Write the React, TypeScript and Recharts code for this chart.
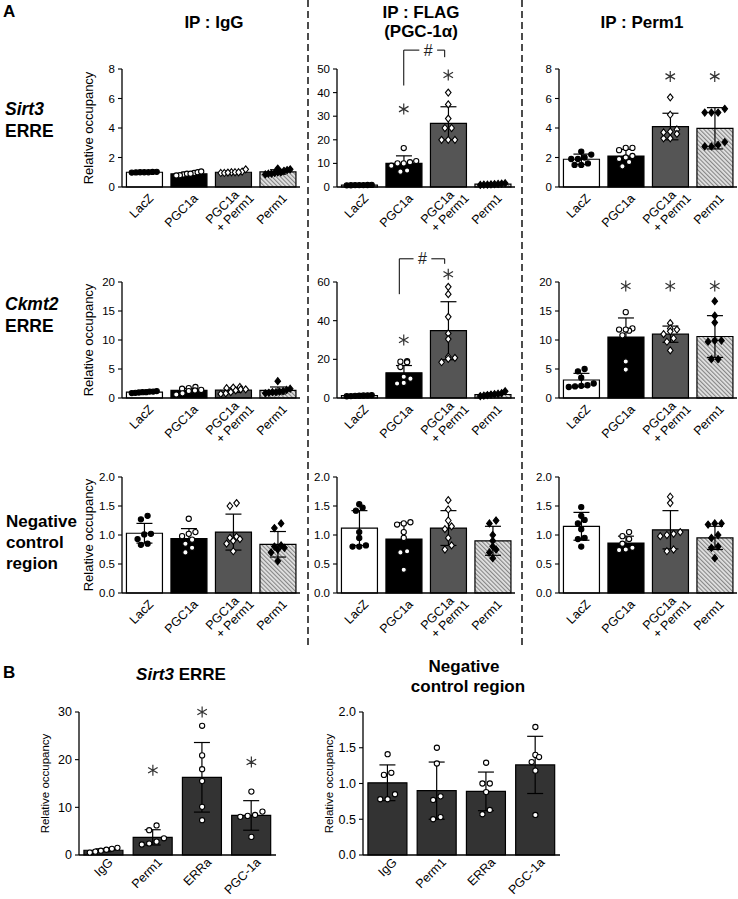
import React from 'react';
import { ComposedChart, Bar, Cell, ErrorBar, Scatter, XAxis, YAxis, ReferenceDot, ReferenceLine } from 'recharts';

const FONT = '"Liberation Sans", Arial, Helvetica, sans-serif';

const A_GROUPS = ['LacZ', 'PGC1a', 'PGC1a\n+ Perm1', 'Perm1'];
const B_GROUPS = ['IgG', 'Perm1', 'ERRa', 'PGC-1a'];

// A - Sirt3 ERRE
const s3IgGMean = [1.0, 0.9, 1.0, 1.02];
const s3IgGSd = [0.05, 0.1, 0.1, 0.15];
const s3IgGDots = [
  [1.0, 1.02, 0.98, 1.0, 1.03, 0.99, 1.0],
  [0.85, 0.9, 0.95, 1.0, 0.8, 0.9, 1.05, 0.78],
  [0.95, 1.0, 1.0, 1.05, 0.95, 1.0, 1.2, 0.98],
  [1.0, 1.15, 0.9, 1.2, 0.85, 1.0, 1.1, 0.9, 1.25, 0.95],
];

const s3FlagMean = [0.8, 10, 27, 1.2];
const s3FlagSd = [0.1, 3.2, 7, 0.3];
const s3FlagDots = [
  [0.8, 0.9, 0.7, 0.8, 0.85, 0.75, 0.8],
  [16.5, 10.5, 10, 11, 10, 7, 6.5, 9],
  [40, 35, 29, 25, 25, 20, 20, 20],
  [1.0, 1.4, 1.2, 0.9, 1.6, 1.1, 1.3, 1.0],
];
const s3FlagStars = [null, 33, 47.5, null];
const s3FlagBracket = { x1: 1, x2: 1.92, hash: 1.55, low: 43, top: 58, rightLow: 55 };

const s3PermMean = [1.88, 2.1, 4.1, 3.98];
const s3PermSd = [0.35, 0.45, 0.9, 1.4];
const s3PermDots = [
  [2.4, 2.2, 2.0, 1.9, 1.9, 1.6, 1.5, 1.5],
  [2.65, 2.65, 2.5, 2.1, 2.0, 1.9, 1.4, 1.7],
  [6.08, 4.9, 3.9, 3.75, 3.6, 3.3, 3.3, 3.7],
  [5.3, 5.05, 5.05, 5.05, 3.05, 2.85, 2.75, 2.75],
];
const s3PermStars = [null, null, 7.5, 7.5];

// A - Ckmt2 ERRE
const ckIgGMean = [1.0, 1.3, 1.35, 1.3];
const ckIgGSd = [0.12, 0.35, 0.4, 0.6];
const ckIgGDots = [
  [1.2, 1.0, 0.9, 1.1, 1.0, 0.95, 1.1, 0.85],
  [1.9, 1.7, 1.6, 1.4, 1.2, 0.8, 0.6, 1.3],
  [1.9, 1.8, 1.7, 1.5, 1.3, 1.0, 0.8, 0.7, 1.5],
  [2.9, 1.6, 1.4, 1.2, 1.0, 1.0, 0.9, 0.8, 1.1],
];

const ckFlagMean = [1.2, 13, 34.8, 1.8];
const ckFlagSd = [0.3, 3.8, 15, 0.7];
const ckFlagDots = [
  [1.0, 1.3, 1.1, 1.5, 0.9, 1.2, 1.4],
  [19, 18.5, 18.8, 16, 11, 10, 7.8, 7.5],
  [57.5, 53.7, 42, 33.4, 30.5, 21.4, 20.8, 20.3, 18.5],
  [1.5, 2, 2.5, 3.5, 1.2, 1.8, 2.2, 1.0],
];
const ckFlagStars = [null, 30, 64, null];
const ckFlagBracket = { x1: 0.9, x2: 1.92, hash: 1.42, low: 53.7, top: 72, rightLow: 69.4 };

const ckPermMean = [3.1, 10.5, 11.0, 10.6];
const ckPermSd = [1.15, 3.3, 1.4, 3.6];
const ckPermDots = [
  [5.0, 4.6, 3.5, 2.5, 2.2, 2.0, 1.9, 2.1],
  [14.8, 12, 11.8, 11.6, 11.8, 10.8, 6.3, 4.9],
  [12.9, 12.0, 11.8, 11.5, 11.0, 10.3, 9.7, 8.2],
  [16.7, 14.2, 13, 9.9, 9.9, 9.7, 6.7, 6.7],
];
const ckPermStars = [null, 19.3, 19.3, 19.3];

// A - Negative control region
const ngIgGMean = [1.03, 0.94, 1.05, 0.84];
const ngIgGSd = [0.17, 0.17, 0.31, 0.22];
const ngIgGDots = [
  [1.33, 1.27, 1.02, 1.01, 0.93, 0.85, 0.83],
  [1.28, 1.05, 1.02, 0.98, 0.92, 0.85, 0.78, 0.7],
  [1.55, 1.5, 0.97, 0.95, 0.93, 0.9, 0.85, 0.72],
  [1.2, 1.12, 0.82, 0.8, 0.78, 0.75, 0.7, 0.55],
];

const ngFlagMean = [1.12, 0.93, 1.12, 0.9];
const ngFlagSd = [0.3, 0.28, 0.3, 0.25];
const ngFlagDots = [
  [1.53, 1.47, 1.42, 1.05, 0.95, 0.82, 0.8, 0.8],
  [1.22, 1.2, 1.18, 1.05, 0.95, 0.72, 0.7, 0.4],
  [1.6, 1.44, 1.25, 1.15, 1.1, 0.95, 0.82, 0.75],
  [1.25, 1.2, 1.0, 0.9, 0.8, 0.75, 0.7, 0.6],
];

const ngPermMean = [1.15, 0.86, 1.09, 0.95];
const ngPermSd = [0.24, 0.12, 0.33, 0.2];
const ngPermDots = [
  [1.48, 1.33, 1.26, 1.2, 1.1, 0.95, 0.93, 0.8],
  [1.05, 0.98, 0.93, 0.85, 0.78, 0.75, 0.74],
  [1.66, 1.55, 1.05, 1.02, 1.0, 0.98, 0.75, 0.72],
  [1.2, 1.2, 1.18, 1.0, 0.95, 0.8, 0.78, 0.6],
];

// B
const bSirt3Mean = [1.0, 3.7, 16.3, 8.3];
const bSirt3Sd = [0.3, 1.6, 7.3, 3.1];
const bSirt3Dots = [
  [1.5, 1.3, 1.1, 0.9, 0.5, 0.7],
  [6.2, 5.2, 3.5, 2.8, 2.4, 2.2],
  [27.1, 20.9, 18.0, 15.5, 10.1, 7.3],
  [13.3, 9.1, 8.4, 8.2, 8.0, 3.8],
];
const bSirt3Stars = [null, 17.8, 30, 19.5];

const bNegMean = [1.01, 0.9, 0.89, 1.26];
const bNegSd = [0.25, 0.4, 0.27, 0.4];
const bNegDots = [
  [1.41, 1.15, 1.12, 0.85, 0.78, 0.78],
  [1.5, 1.28, 0.82, 0.77, 0.53, 0.5],
  [1.29, 1.0, 1.0, 0.88, 0.63, 0.57],
  [1.79, 1.4, 1.37, 1.3, 1.18, 0.56],
];

const TICKS_8 = [0, 2, 4, 6, 8];
const TICKS_20 = [0, 5, 10, 15, 20];
const TICKS_50 = [0, 10, 20, 30, 40, 50];
const TICKS_60 = [0, 20, 40, 60];
const TICKS_2 = [0, 0.5, 1, 1.5, 2];
const TICKS_30 = [0, 10, 20, 30];

type Style = { fill: string; shape: 'circle' | 'diamond'; open: boolean };
const A_STYLES: Style[] = [
  { fill: '#ffffff', shape: 'circle', open: false },
  { fill: '#000000', shape: 'circle', open: true },
  { fill: '#555555', shape: 'diamond', open: true },
  { fill: 'hatch', shape: 'diamond', open: false },
];
const B_STYLES: Style[] = B_GROUPS.map(() => ({ fill: '#333333', shape: 'circle', open: true }));

// spread dots that sit at nearly the same height across the bar
function swarm(values: number[], max: number): number[] {
  const order = values.map((_, i) => i).sort((a, b) => values[a] - values[b]);
  const offs = values.map(() => 0);
  let k = 0;
  while (k < order.length) {
    let e = k + 1;
    while (e < order.length && values[order[e]] - values[order[k]] < max * 0.045) e++;
    const n = e - k;
    const span = Math.min(0.56, 0.15 * (n - 1));
    for (let j = 0; j < n; j++) offs[order[k + j]] = n === 1 ? 0 : -span / 2 + (span * j) / (n - 1);
    k = e;
  }
  return offs;
}

const XTick = (props: any) => {
  const { x, y, payload, fs, dy } = props;
  const lines = String(payload.value).split('\n');
  return (
    <g transform={`translate(${x + 10},${y + dy})`}>
      <text transform="rotate(-45)" textAnchor="end" fontSize={fs} fill="#000" fontFamily={FONT}>
        {lines.length === 1 ? (
          <tspan x={0} y={0}>{lines[0]}</tspan>
        ) : (
          lines.map((l, i) => (
            <tspan key={i} x={i * 8} y={i === 0 ? -5 : 8}>{l}</tspan>
          ))
        )}
      </text>
    </g>
  );
};

const YLabel = (props: any) => {
  const { viewBox, fs } = props;
  const cx = viewBox.x + viewBox.width / 2;
  const cy = viewBox.y + viewBox.height / 2;
  return (
    <text transform={`translate(${cx},${cy}) rotate(-90)`} textAnchor="middle" dominantBaseline="central"
      fontSize={fs} fill="#000" fontFamily={FONT}>
      Relative occupancy
    </text>
  );
};

const DotShape = (props: any) => {
  const { cx, cy, payload } = props;
  const st: Style = payload.st;
  const fill = st.open ? '#fff' : '#000';
  if (st.shape === 'diamond') {
    return <path d={`M${cx},${cy - 3.5}L${cx + 2.8},${cy}L${cx},${cy + 3.5}L${cx - 2.8},${cy}Z`} fill={fill} stroke="#000" strokeWidth={1.1} />;
  }
  return <circle cx={cx} cy={cy} r={2.6} fill={fill} stroke="#000" strokeWidth={1.1} />;
};

// six-armed asterisk used as the significance mark
const StarShape = (props: any) => {
  const { cx, cy } = props;
  const r = 5.5;
  const d = [90, 30, 150]
    .map((a) => {
      const dx = r * Math.cos((a * Math.PI) / 180);
      const dy = r * Math.sin((a * Math.PI) / 180);
      return `M${cx - dx},${cy - dy}L${cx + dx},${cy + dy}`;
    })
    .join('');
  return <path d={d} stroke="#333" strokeWidth={1.2} fill="none" />;
};
const HashShape = (props: any) => (
  <text x={props.cx} y={props.cy + 5.5} textAnchor="middle" fontSize={16} fill="#222" fontFamily={FONT}>#</text>
);

interface PanelProps {
  id: string;
  groups: string[];
  mean: number[];
  sd: number[];
  dots: number[][];
  stars?: (number | null)[];
  bracket?: { x1: number; x2: number; hash: number; low: number; top: number; rightLow: number };
  max: number;
  ticks: number[];
  dec?: number;
  left: number;
  top: number;
  w: number;
  h: number;
  yLabel?: boolean;
  fs: number;
  xfs: number;
  lfs: number;
  xdy: number;
  styles: Style[];
  gap: string;
}

const MT = 50;
const MR = 8;
const XH = 72;

function Panel(p: PanelProps) {
  const yw = 68;
  const hatchId = `hatch-${p.id}`;
  const data = p.groups.map((g, i) => ({ name: g, mean: p.mean[i], sd: p.sd[i] }));
  const pts = p.dots.flatMap((vals, i) => {
    const offs = swarm(vals, p.max);
    return vals.map((v, j) => ({ x: i + offs[j], y: v, st: p.styles[i] }));
  });
  const fillOf = (s: Style) => (s.fill === 'hatch' ? `url(#${hatchId})` : s.fill);
  const b = p.bracket;
  return (
    <div style={{ position: 'absolute', left: p.left - yw, top: p.top - MT }}>
      <ComposedChart width={yw + p.w + MR} height={MT + p.h + XH} data={data} margin={{ top: MT, right: MR, bottom: 0, left: 0 }}>
        <defs>
          <pattern id={hatchId} width="3" height="3" patternUnits="userSpaceOnUse" patternTransform="rotate(-45)">
            <rect width="3" height="3" fill="#e4e4e4" />
            <line x1="0.6" y1="0" x2="0.6" y2="3" stroke="#808080" strokeWidth="1.1" />
          </pattern>
        </defs>
        <XAxis
          xAxisId="c"
          dataKey="name"
          height={XH}
          interval={0}
          tickLine={false}
          tickSize={0}
          tickMargin={0}
          axisLine={{ stroke: '#000', strokeWidth: 1.3 }}
          tick={(tp: any) => <XTick {...tp} fs={p.xfs} dy={p.xdy} />}
        />
        <XAxis xAxisId="n" type="number" dataKey="x" domain={[-0.5, p.groups.length - 0.5]} allowDataOverflow hide />
        <YAxis
          width={yw}
          domain={[0, p.max]}
          ticks={p.ticks}
          interval={0}
          tickSize={4}
          tickMargin={3}
          tickLine={{ stroke: '#000', strokeWidth: 1.1 }}
          axisLine={{ stroke: '#000', strokeWidth: 1.3 }}
          tick={{ fontSize: p.fs, fill: '#000', fontFamily: FONT }}
          tickFormatter={(v: number) => (p.dec ? v.toFixed(p.dec) : String(v))}
          label={p.yLabel ? (lp: any) => <YLabel viewBox={lp.viewBox} fs={p.lfs} /> : undefined}
        />
        <Bar xAxisId="c" dataKey="mean" barCategoryGap={p.gap} stroke="#000" strokeWidth={1.2} isAnimationActive={false}>
          {data.map((_, i) => (
            <Cell key={i} fill={fillOf(p.styles[i])} />
          ))}
          <ErrorBar dataKey="sd" width={8} stroke="#000" strokeWidth={1.2} direction="y" isAnimationActive={false} />
        </Bar>
        <Scatter xAxisId="n" data={pts} dataKey="y" shape={DotShape} isAnimationActive={false} />
        {(p.stars || []).map((s, i) =>
          s == null ? null : (
            <ReferenceDot key={`s${i}`} xAxisId="n" x={i} y={s} ifOverflow="visible" shape={StarShape} />
          )
        )}
        {b && (
          <ReferenceLine xAxisId="n" ifOverflow="visible" stroke="#000" strokeWidth={1}
            segment={[{ x: b.x1, y: b.low }, { x: b.x1, y: b.top }]} />
        )}
        {b && (
          <ReferenceLine xAxisId="n" ifOverflow="visible" stroke="#000" strokeWidth={1}
            segment={[{ x: b.x1, y: b.top }, { x: b.hash - 0.2, y: b.top }]} />
        )}
        {b && (
          <ReferenceLine xAxisId="n" ifOverflow="visible" stroke="#000" strokeWidth={1}
            segment={[{ x: b.hash + 0.2, y: b.top }, { x: b.x2, y: b.top }]} />
        )}
        {b && (
          <ReferenceLine xAxisId="n" ifOverflow="visible" stroke="#000" strokeWidth={1}
            segment={[{ x: b.x2, y: b.top }, { x: b.x2, y: b.rightLow }]} />
        )}
        {b && <ReferenceDot xAxisId="n" x={b.hash} y={b.top} ifOverflow="visible" shape={HashShape} />}
      </ComposedChart>
    </div>
  );
}

const COL_X = [122, 337, 559];
const ROW_Y = [69, 282, 477];
const ROW_H = [118, 116, 116];
const PW = 178;

export default function App() {
  const common = { groups: A_GROUPS, styles: A_STYLES, fs: 11.5, xfs: 12.5, lfs: 13, xdy: 12, w: PW, gap: '15%' };
  const bCommon = { groups: B_GROUPS, styles: B_STYLES, fs: 12.5, xfs: 12.5, lfs: 11.5, xdy: 8, w: 197, h: 143, gap: '16%' };
  return (
    <div style={{ position: 'absolute', left: 0, top: 0, width: 738, height: 899, background: '#fff', fontFamily: FONT }}>
      <svg width={738} height={899} style={{ position: 'absolute', left: 0, top: 0 }}>
        <g fontFamily={FONT} fill="#000" fontWeight="bold">
          <text x={3} y={17} fontSize={17}>A</text>
          <text x={214} y={28} fontSize={17} textAnchor="middle">IP : IgG</text>
          <text x={421} y={18} fontSize={17} textAnchor="middle">IP : FLAG</text>
          <text x={421} y={37} fontSize={17} textAnchor="middle">(PGC-1α)</text>
          <text x={642} y={28} fontSize={17} textAnchor="middle">IP : Perm1</text>
          <text x={5} y={115} fontSize={17.5} fontStyle="italic">Sirt3</text>
          <text x={5} y={137} fontSize={17.5}>ERRE</text>
          <text x={5} y={310} fontSize={17.5} fontStyle="italic">Ckmt2</text>
          <text x={5} y={332} fontSize={17.5}>ERRE</text>
          <text x={6} y={527} fontSize={17}>Negative</text>
          <text x={6} y={548} fontSize={17}>control</text>
          <text x={6} y={569} fontSize={17}>region</text>
          <text x={3} y={678} fontSize={17}>B</text>
          <text x={181} y={680} fontSize={17} textAnchor="middle">
            <tspan fontStyle="italic">Sirt3</tspan> ERRE
          </text>
          <text x={464} y={672} fontSize={17} textAnchor="middle">Negative</text>
          <text x={468} y={692} fontSize={17} textAnchor="middle">control region</text>
        </g>
        <line x1={308} y1={0} x2={308} y2={648} stroke="#000" strokeWidth={1.4} strokeDasharray="7 4" />
        <line x1={522} y1={0} x2={522} y2={648} stroke="#000" strokeWidth={1.4} strokeDasharray="7 4" />
      </svg>

      <Panel id="s3i" {...common} mean={s3IgGMean} sd={s3IgGSd} dots={s3IgGDots} max={8} ticks={TICKS_8}
        left={COL_X[0]} top={ROW_Y[0]} h={ROW_H[0]} yLabel />
      <Panel id="s3f" {...common} mean={s3FlagMean} sd={s3FlagSd} dots={s3FlagDots} max={50} ticks={TICKS_50}
        stars={s3FlagStars} bracket={s3FlagBracket} left={COL_X[1]} top={ROW_Y[0]} h={ROW_H[0]} />
      <Panel id="s3p" {...common} mean={s3PermMean} sd={s3PermSd} dots={s3PermDots} max={8} ticks={TICKS_8}
        stars={s3PermStars} left={COL_X[2]} top={ROW_Y[0]} h={ROW_H[0]} />

      <Panel id="cki" {...common} mean={ckIgGMean} sd={ckIgGSd} dots={ckIgGDots} max={20} ticks={TICKS_20}
        left={COL_X[0]} top={ROW_Y[1]} h={ROW_H[1]} yLabel />
      <Panel id="ckf" {...common} mean={ckFlagMean} sd={ckFlagSd} dots={ckFlagDots} max={60} ticks={TICKS_60}
        stars={ckFlagStars} bracket={ckFlagBracket} left={COL_X[1]} top={ROW_Y[1]} h={ROW_H[1]} />
      <Panel id="ckp" {...common} mean={ckPermMean} sd={ckPermSd} dots={ckPermDots} max={20} ticks={TICKS_20}
        stars={ckPermStars} left={COL_X[2]} top={ROW_Y[1]} h={ROW_H[1]} />

      <Panel id="ngi" {...common} mean={ngIgGMean} sd={ngIgGSd} dots={ngIgGDots} max={2} ticks={TICKS_2} dec={1}
        left={COL_X[0]} top={ROW_Y[2]} h={ROW_H[2]} yLabel />
      <Panel id="ngf" {...common} mean={ngFlagMean} sd={ngFlagSd} dots={ngFlagDots} max={2} ticks={TICKS_2} dec={1}
        left={COL_X[1]} top={ROW_Y[2]} h={ROW_H[2]} />
      <Panel id="ngp" {...common} mean={ngPermMean} sd={ngPermSd} dots={ngPermDots} max={2} ticks={TICKS_2} dec={1}
        left={COL_X[2]} top={ROW_Y[2]} h={ROW_H[2]} />

      <Panel id="bs" {...bCommon} mean={bSirt3Mean} sd={bSirt3Sd} dots={bSirt3Dots} max={30} ticks={TICKS_30}
        stars={bSirt3Stars} left={79} top={712} yLabel />
      <Panel id="bn" {...bCommon} mean={bNegMean} sd={bNegSd} dots={bNegDots} max={2} ticks={TICKS_2} dec={1}
        left={363} top={712} yLabel />
    </div>
  );
}
